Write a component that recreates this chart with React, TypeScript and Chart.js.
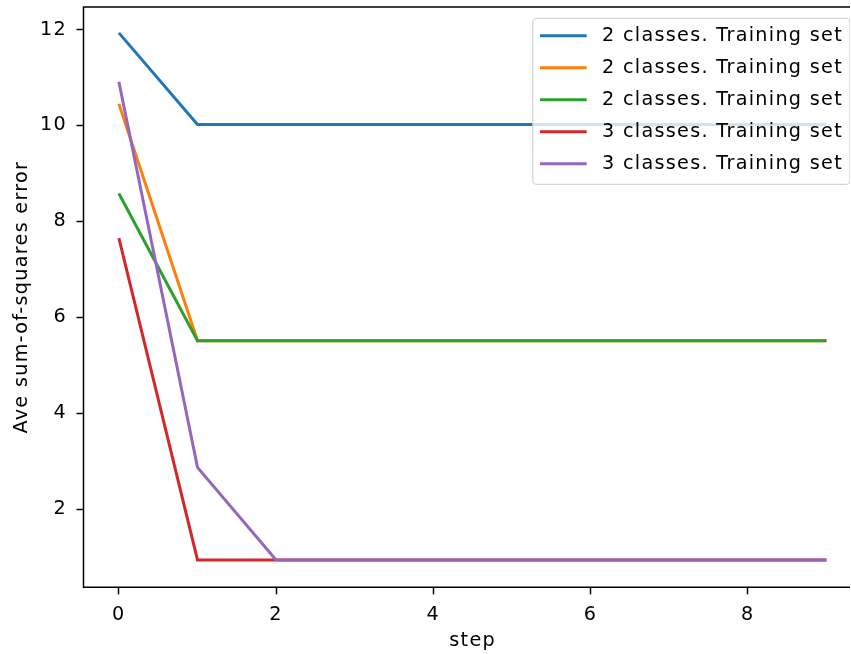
import React, { useEffect, useRef } from "react";
import { Chart, registerables } from "chart.js";

Chart.register(...registerables);

const steps = [0, 1, 2, 3, 4, 5, 6, 7, 8, 9];
const seriesLabels = [
  "2 classes. Training set",
  "2 classes. Training set",
  "2 classes. Training set",
  "3 classes. Training set",
  "3 classes. Training set",
];
const blueValues = [11.93, 10.02, 10.02, 10.02, 10.02, 10.02, 10.02, 10.02, 10.02, 10.02];
const orangeValues = [10.45, 5.51, 5.51, 5.51, 5.51, 5.51, 5.51, 5.51, 5.51, 5.51];
const greenValues = [8.58, 5.51, 5.51, 5.51, 5.51, 5.51, 5.51, 5.51, 5.51, 5.51];
const redValues = [7.65, 0.94, 0.94, 0.94, 0.94, 0.94, 0.94, 0.94, 0.94, 0.94];
const purpleValues = [10.91, 2.87, 0.94, 0.94, 0.94, 0.94, 0.94, 0.94, 0.94, 0.94];
const colors = ["#1f77b4", "#ff7f0e", "#2ca02c", "#d62728", "#9467bd"];
const xTicks = [0, 2, 4, 6, 8];
const yTicks = [2, 4, 6, 8, 10, 12];

const FONT = "DejaVu Sans";
const FS = 19.2;
const LS = "1.3px";
const CW = 880;
const AREA_RIGHT = 861.8;

const spacing = {
  id: "spacing",
  beforeDraw(chart: any) {
    try {
      (chart.ctx as any).letterSpacing = LS;
    } catch (e) {}
  },
};

const frameAndLegend = {
  id: "frameAndLegend",
  afterDraw(chart: any) {
    const ctx = chart.ctx;
    const a = chart.chartArea;
    ctx.save();
    ctx.strokeStyle = "#000";
    ctx.lineWidth = 1.5;
    ctx.lineCap = "butt";
    ctx.beginPath();
    ctx.moveTo(a.right, a.top);
    ctx.lineTo(a.left, a.top);
    ctx.lineTo(a.left, a.bottom);
    ctx.lineTo(a.right, a.bottom);
    ctx.stroke();
    // legend
    const bx = 532.7, by = 18.3, bw = 317.3, bh = 166, r = 4;
    ctx.beginPath();
    ctx.moveTo(bx + r, by);
    ctx.arcTo(bx + bw, by, bx + bw, by + bh, r);
    ctx.arcTo(bx + bw, by + bh, bx, by + bh, r);
    ctx.arcTo(bx, by + bh, bx, by, r);
    ctx.arcTo(bx, by, bx + bw, by, r);
    ctx.closePath();
    ctx.fillStyle = "rgba(255,255,255,0.8)";
    ctx.fill();
    ctx.strokeStyle = "rgba(204,204,204,0.8)";
    ctx.lineWidth = 1.3;
    ctx.stroke();
    ctx.font = `${FS}px "${FONT}"`;
    try {
      (ctx as any).letterSpacing = LS;
    } catch (e) {}
    ctx.textBaseline = "middle";
    ctx.textAlign = "left";
    chart.data.datasets.forEach((ds: any, i: number) => {
      const y = 35.7 + i * 32;
      ctx.strokeStyle = ds.borderColor;
      ctx.lineWidth = 3;
      ctx.beginPath();
      ctx.moveTo(540, y);
      ctx.lineTo(586.7, y);
      ctx.stroke();
      ctx.fillStyle = "#000";
      ctx.fillText(ds.label, 602, y + 0.5);
    });
    ctx.restore();
  },
};

export default function App() {
  const ref = useRef<HTMLCanvasElement>(null);
  useEffect(() => {
    if (!ref.current) return;
    const all = [blueValues, orangeValues, greenValues, redValues, purpleValues];
    const chart = new Chart(ref.current, {
      type: "line",
      data: {
        datasets: all.map((vals, i) => ({
          label: seriesLabels[i],
          data: steps.map((s, j) => ({ x: s, y: vals[j] })),
          borderColor: colors[i],
          backgroundColor: colors[i],
          borderWidth: 3,
          pointRadius: 0,
          tension: 0,
          fill: false,
          order: all.length - 1 - i,
        })),
      },
      options: {
        animation: false,
        responsive: false,
        devicePixelRatio: 1,
        layout: { padding: { left: 0, top: 7, right: CW - AREA_RIGHT, bottom: 0 } },
        plugins: { legend: { display: false }, tooltip: { enabled: false } },
        scales: {
          x: {
            type: "linear",
            min: -0.45,
            max: 9.45,
            afterBuildTicks: (s: any) => {
              s.ticks = xTicks.map((v) => ({ value: v }));
            },
            afterFit: (s: any) => {
              s.height = 654 - 587.3;
              s.paddingLeft = 0;
              s.paddingRight = 0;
            },
            grid: {
              drawOnChartArea: false,
              tickLength: 7,
              tickColor: "#000",
              tickWidth: 1.5,
            },
            border: { display: false },
            ticks: {
              color: "#000",
              font: { family: FONT, size: FS },
              padding: 9.5,
              maxRotation: 0,
            },
            title: {
              display: true,
              text: "step",
              color: "#000",
              font: { family: FONT, size: FS },
              padding: { top: 0, bottom: 1.5 },
            },
          },
          y: {
            type: "linear",
            min: 0.37,
            max: 12.47,
            afterBuildTicks: (s: any) => {
              s.ticks = yTicks.map((v) => ({ value: v }));
            },
            afterFit: (s: any) => {
              s.width = 83.5;
              s.paddingTop = 0;
              s.paddingBottom = 0;
            },
            grid: {
              drawOnChartArea: false,
              tickLength: 7,
              tickColor: "#000",
              tickWidth: 1.5,
            },
            border: { display: false },
            ticks: {
              color: "#000",
              font: { family: FONT, size: FS },
              padding: 9.5,
            },
            title: {
              display: true,
              text: "Ave sum-of-squares error",
              color: "#000",
              font: { family: FONT, size: FS },
              padding: { top: 10.2, bottom: 0 },
            },
          },
        },
      },
      plugins: [spacing, frameAndLegend],
    } as any);
    return () => chart.destroy();
  }, []);
  return (
    <div
      style={{
        position: "fixed",
        left: 0,
        top: 0,
        width: 850,
        height: 654,
        overflow: "hidden",
        background: "#fff",
      }}
    >
      <canvas ref={ref} width={CW} height={654} style={{ display: "block" }} />
    </div>
  );
}
